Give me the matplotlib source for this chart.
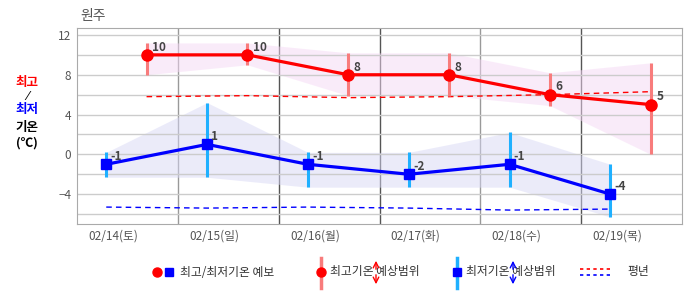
import matplotlib
matplotlib.use('Agg')
import matplotlib.pyplot as plt
import numpy as np

plt.rcParams['font.family'] = ['Noto Sans CJK KR', 'DejaVu Sans']

# data
days = ['02/14(토)', '02/15(일)', '02/16(월)', '02/17(화)', '02/18(수)', '02/19(목)']
tmax = [10, 10, 8, 8, 6, 5]
tmax_hi = [11.2, 11.2, 10.2, 10.2, 8.2, 9.2]
tmax_lo = [8.0, 9.0, 5.9, 5.9, 4.9, 0.0]
tmin = [-1, 1, -1, -2, -1, -4]
tmin_hi = [0.2, 5.2, 0.2, 0.2, 2.2, -1.0]
tmin_lo = [-2.3, -2.3, -3.3, -3.3, -3.3, -6.3]
norm_max = [5.8, 5.9, 5.7, 5.8, 6.0, 6.3]
norm_min = [-5.3, -5.4, -5.3, -5.4, -5.6, -5.5]

n = len(days)
xd = np.arange(n)
x_min = xd + 0.29
x_max = xd + 0.69

fig = plt.figure(figsize=(6.86, 2.95), dpi=100)
ax = fig.add_axes([77/686, 71/295, 605/686, 196/295])

# bands
ax.fill_between(x_max, tmax_lo, tmax_hi, color='#f5d8f5', alpha=0.5, lw=0, zorder=1)
ax.fill_between(x_min, tmin_lo, tmin_hi, color='#d8d8f5', alpha=0.5, lw=0, zorder=1)

# normals
ax.plot(x_max, norm_max, color='#ff0000', lw=1, ls=(0, (4, 3)), zorder=2)
ax.plot(x_min, norm_min, color='#0000ff', lw=1, ls=(0, (4, 3)), zorder=2)

# ranges
ax.vlines(x_max, tmax_lo, tmax_hi, color='#f87c7c', lw=2.2, zorder=3)
ax.vlines(x_min, tmin_lo, tmin_hi, color='#1fb0ff', lw=2.2, zorder=3)

# forecasts
ax.plot(x_max, tmax, color='#ff0000', lw=2.3, marker='o', ms=8, zorder=4)
ax.plot(x_min, tmin, color='#0000ff', lw=2.3, marker='s', ms=7, zorder=4)

for x, v in zip(x_max, tmax):
    ax.annotate(str(v), (x, v), xytext=(4, 3), textcoords='offset points',
                fontsize=8.5, fontweight='bold', color='#444444', zorder=5)
for x, v in zip(x_min, tmin):
    ax.annotate(str(v), (x, v), xytext=(3, 3), textcoords='offset points',
                fontsize=8.5, fontweight='bold', color='#444444', zorder=5)

ax.set_xlim(0, n)
ax.set_ylim(-7, 12.7)
ax.set_yticks([12, 8, 4, 0, -4])
ax.set_yticklabels(['12', '8', '4', '0', '\u22124'])
ax.set_yticks(np.arange(-6, 13, 2), minor=True)
ax.yaxis.grid(True, which='both', color='#cccccc', lw=1)
ax.set_xticks(xd + 0.36)
ax.set_xticklabels(days)
ax.tick_params(which='both', length=0, labelsize=8.5, labelcolor='#555555', pad=4)
for i in range(1, n):
    ax.axvline(i, color='#999999' if i in (1, 4) else '#555555', lw=1, zorder=0)
for s in ax.spines.values():
    s.set_color('#aaaaaa')

fig.text(80/686, 1 - 16/295, '원주', fontsize=10, color='#555555', va='center')

# left label
fig.text(27/686, 1 - 82/295, '최고', color='#ff0000', fontsize=9, fontweight='bold', ha='center', va='center')
fig.text(27/686, 1 - 96/295, '⁄', color='#000000', fontsize=9, ha='center', va='center', family=['DejaVu Sans'])
fig.text(27/686, 1 - 110/295, '최저', color='#0000ff', fontsize=9, fontweight='bold', ha='center', va='center')
fig.text(27/686, 1 - 127/295, '기온', color='#000000', fontsize=9, fontweight='bold', ha='center', va='center')
fig.text(27/686, 1 - 143/295, '(℃)', color='#000000', fontsize=9, fontweight='bold', ha='center', va='center')

# legend
lg = fig.add_axes([0, 0, 1, 1], facecolor='none')
lg.set_xlim(0, 686)
lg.set_ylim(295, 0)
lg.axis('off')
ly = 272
lg.plot(157, ly, 'o', color='#ff0000', ms=6.5)
lg.plot(169, ly, 's', color='#0000ff', ms=5.5)
lg.text(180, ly, '최고/최저기온 예보', fontsize=8.5, color='#333333', va='center')
lg.plot([321, 321], [258, 288], color='#f87c7c', lw=2.5)
lg.plot(321, ly, 'o', color='#ff0000', ms=6.5)
lg.text(330, ly, '최고기온 예상범위', fontsize=8.5, color='#333333', va='center')
lg.annotate('', (376, 258), (376, 272), arrowprops=dict(arrowstyle='->', color='#ff0000', lw=1))
lg.annotate('', (376, 287), (376, 272), arrowprops=dict(arrowstyle='->', color='#ff0000', lw=1))
lg.plot([457, 457], [258, 288], color='#1fb0ff', lw=2.5)
lg.plot(457, ly, 's', color='#0000ff', ms=5.5)
lg.text(466, ly, '최저기온 예상범위', fontsize=8.5, color='#333333', va='center')
lg.annotate('', (513, 258), (513, 272), arrowprops=dict(arrowstyle='->', color='#0000ff', lw=1))
lg.annotate('', (513, 287), (513, 272), arrowprops=dict(arrowstyle='->', color='#0000ff', lw=1))
lg.plot([580, 612], [269, 269], color='#ff0000', lw=1.2, ls=(0, (2, 2)))
lg.plot([580, 612], [275, 275], color='#0000ff', lw=1.2, ls=(0, (2, 2)))
lg.text(627, ly, '평년', fontsize=8.5, color='#333333', va='center')

fig.savefig('out.png', dpi=100)
